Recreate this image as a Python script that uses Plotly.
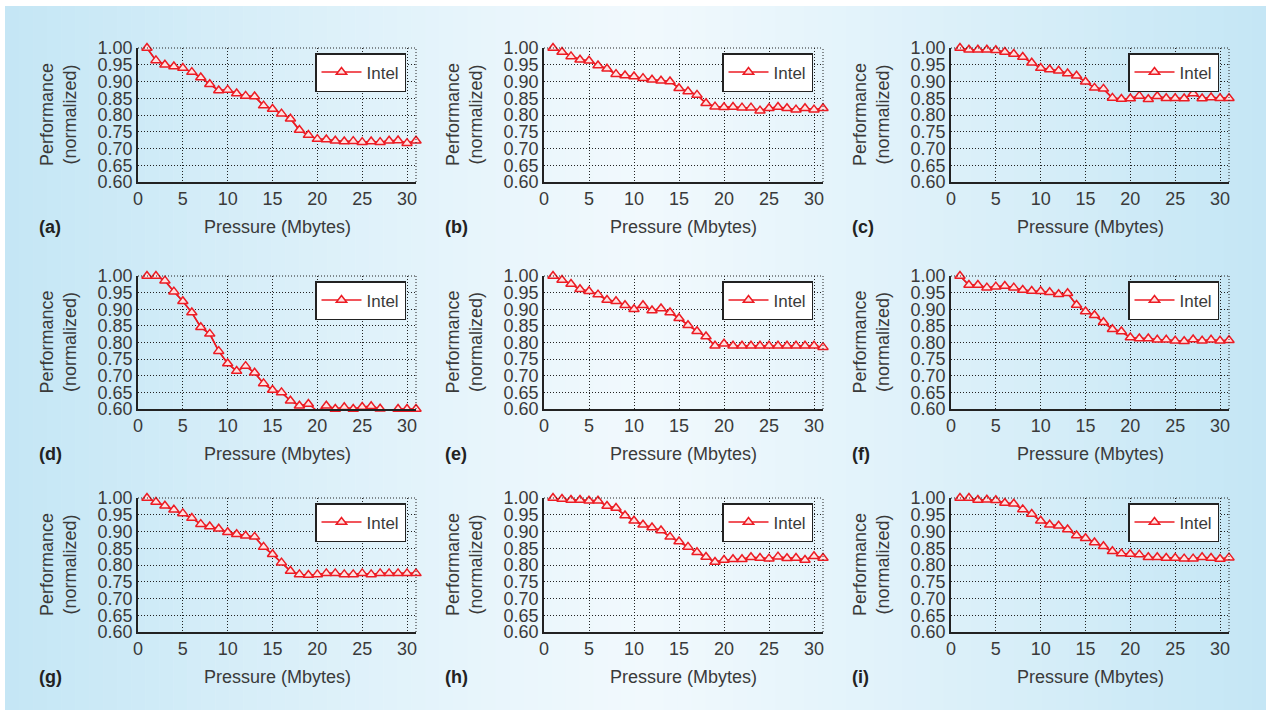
import plotly.graph_objects as go

# ---------------- data ----------------
pressure_mb = list(range(1, 32))

perf_a = [1.00, 0.963, 0.95, 0.945, 0.94, 0.928, 0.912, 0.892, 0.873, 0.875, 0.864, 0.857, 0.855, 0.828, 0.818,
          0.804, 0.789, 0.755, 0.74, 0.728, 0.727, 0.723, 0.721, 0.722, 0.719, 0.721, 0.719, 0.723, 0.724, 0.716, 0.723]
perf_b = [1.00, 0.988, 0.975, 0.965, 0.962, 0.948, 0.938, 0.922, 0.918, 0.915, 0.91, 0.905, 0.902, 0.90, 0.88,
          0.87, 0.86, 0.835, 0.825, 0.823, 0.824, 0.822, 0.822, 0.813, 0.82, 0.824, 0.82, 0.816, 0.82, 0.816, 0.82]
perf_c = [1.00, 0.995, 0.995, 0.995, 0.993, 0.988, 0.982, 0.973, 0.956, 0.94, 0.936, 0.932, 0.924, 0.917, 0.899,
          0.881, 0.878, 0.851, 0.848, 0.849, 0.857, 0.847, 0.856, 0.85, 0.85, 0.849, 0.864, 0.849, 0.852, 0.85, 0.85]
perf_d = [1.00, 1.00, 0.986, 0.953, 0.924, 0.89, 0.846, 0.826, 0.774, 0.737, 0.714, 0.729, 0.709, 0.677, 0.657,
          0.65, 0.625, 0.61, 0.615, 0.594, 0.61, 0.60, 0.605, 0.60, 0.606, 0.608, 0.601, 0.594, 0.60, 0.60, 0.60]
perf_e = [1.00, 0.988, 0.976, 0.96, 0.954, 0.944, 0.928, 0.924, 0.912, 0.90, 0.912, 0.896, 0.902, 0.89, 0.873,
          0.852, 0.834, 0.818, 0.79, 0.796, 0.79, 0.79, 0.79, 0.79, 0.79, 0.79, 0.79, 0.79, 0.79, 0.79, 0.786]
perf_f = [1.00, 0.973, 0.973, 0.965, 0.968, 0.97, 0.965, 0.958, 0.955, 0.954, 0.951, 0.945, 0.948, 0.913, 0.893,
          0.882, 0.861, 0.84, 0.833, 0.815, 0.812, 0.812, 0.808, 0.808, 0.805, 0.804, 0.809, 0.805, 0.808, 0.805, 0.807]
perf_g = [1.00, 0.988, 0.977, 0.965, 0.954, 0.94, 0.922, 0.915, 0.908, 0.898, 0.892, 0.887, 0.884, 0.854, 0.832,
          0.807, 0.782, 0.772, 0.77, 0.772, 0.775, 0.775, 0.772, 0.772, 0.775, 0.772, 0.775, 0.775, 0.775, 0.775, 0.775]
perf_h = [1.00, 0.997, 0.994, 0.994, 0.992, 0.992, 0.976, 0.97, 0.948, 0.932, 0.92, 0.912, 0.903, 0.884, 0.87,
          0.854, 0.838, 0.824, 0.809, 0.815, 0.817, 0.817, 0.823, 0.821, 0.819, 0.825, 0.82, 0.821, 0.815, 0.826, 0.821]
perf_i = [1.00, 1.00, 0.994, 0.995, 0.993, 0.985, 0.983, 0.966, 0.952, 0.932, 0.92, 0.917, 0.906, 0.888, 0.88,
          0.867, 0.856, 0.841, 0.834, 0.833, 0.831, 0.823, 0.823, 0.821, 0.821, 0.819, 0.819, 0.823, 0.821, 0.818, 0.822]

panel_labels = ["(a)", "(b)", "(c)", "(d)", "(e)", "(f)", "(g)", "(h)", "(i)"]
panel_series = [perf_a, perf_b, perf_c, perf_d, perf_e, perf_f, perf_g, perf_h, perf_i]
series_name = "Intel"
x_title = "Pressure (Mbytes)"
y_title = "Performance<br>(normalized)"
x_ticks = [0, 5, 10, 15, 20, 25, 30]
y_ticks = [0.60, 0.65, 0.70, 0.75, 0.80, 0.85, 0.90, 0.95, 1.00]

# ---------------- layout geometry (pixels) ----------------
W, H = 1266, 715
col_x0 = [138, 544, 951]
col_x1 = [416, 823, 1229]
row_y0 = [48, 276, 498]     # top of plot areas
row_y1 = [182, 409, 632]    # bottom of plot areas

def px(x):
    return x / W

def py(y):
    return 1 - y / H

RED = "rgb(236,28,36)"
FONT = "Liberation Sans, Arial, sans-serif"
TXT = "#3a3a3a"

fig = go.Figure()

shapes = []
# background gradient panel
x_left, x_right, y_top, y_bot = 5, 1266, 6, 710
n_strips = 90
edge = (196, 230, 245)
mid = (241, 249, 253)
center = 640
for k in range(n_strips):
    a = x_left + (x_right - x_left) * k / n_strips
    b = min(x_right, x_left + (x_right - x_left) * (k + 1) / n_strips + 0.6)
    xc = (a + b) / 2
    if xc < center:
        t = min(1.0, (center - xc) / (center - x_left))
    else:
        t = min(1.0, (xc - center) / (x_right - center))
    t = t ** 1.1
    col = tuple(int(round(mid[j] + (edge[j] - mid[j]) * t)) for j in range(3))
    shapes.append(dict(type="rect", xref="paper", yref="paper", x0=px(a), x1=px(b),
                       y0=py(y_bot), y1=py(y_top), fillcolor="rgb(%d,%d,%d)" % col,
                       line=dict(width=0), layer="below"))

annotations = []
layout_axes = {}
for idx, (label, ys) in enumerate(zip(panel_labels, panel_series)):
    r, c = divmod(idx, 3)
    n = idx + 1
    xs = "" if n == 1 else str(n)
    xa, ya = "x" + xs, "y" + xs
    leg = "legend" if n == 1 else "legend" + str(n)

    ys_vis = [v if v >= 0.6 else None for v in ys]
    fig.add_trace(go.Scatter(x=pressure_mb, y=ys, mode="lines", line=dict(color=RED, width=1.5),
                             xaxis=xa, yaxis=ya, cliponaxis=True, showlegend=False, hoverinfo="skip"))
    fig.add_trace(go.Scatter(x=pressure_mb, y=ys_vis, mode="lines+markers", name=series_name,
                             line=dict(color=RED, width=1.5),
                             marker=dict(symbol="triangle-up", size=9, color="#ffe2e2",
                                         line=dict(color=RED, width=1.5)),
                             xaxis=xa, yaxis=ya, cliponaxis=False, legend=leg))

    xdom = [px(col_x0[c]), px(col_x1[c])]
    ydom = [py(row_y1[r]), py(row_y0[r])]
    common = dict(showgrid=True, gridcolor="#222", griddash="1px,2px", gridwidth=1,
                  showline=True, linecolor="#222", linewidth=1.5, ticks="", zeroline=False,
                  automargin=False, tickfont=dict(family=FONT, size=18, color=TXT))
    layout_axes["xaxis" + xs] = dict(domain=xdom, anchor=ya, range=[0, 31], tickvals=x_ticks, **common)
    layout_axes["yaxis" + xs] = dict(domain=ydom, anchor=xa, range=[0.6, 1.0], tickvals=y_ticks,
                                     tickformat=".2f", **common)

    layout_axes[leg] = dict(x=px(col_x1[c] - 10), y=py(row_y0[r] + 5), xanchor="right", yanchor="top",
                            bgcolor="white", bordercolor="#222", borderwidth=1.5,
                            font=dict(family=FONT, size=17, color=TXT), itemwidth=40,
                            tracegroupgap=0)

    shapes.append(dict(type="line", xref=xa + " domain", yref=ya + " domain", x0=1, x1=1, y0=0, y1=1,
                       line=dict(color="#222", width=1, dash="1px,2px")))
    shapes.append(dict(type="line", xref=xa + " domain", yref=ya + " domain", x0=0, x1=1, y0=1, y1=1,
                       line=dict(color="#222", width=1, dash="1px,2px")))

    cx = (col_x0[c] + col_x1[c]) / 2
    ylab = row_y1[r] + 45
    annotations.append(dict(text=x_title, xref="paper", yref="paper", x=px(cx), y=py(ylab),
                            xanchor="center", yanchor="middle", showarrow=False,
                            font=dict(family=FONT, size=18, color=TXT)))
    annotations.append(dict(text="<b>" + label + "</b>", xref="paper", yref="paper",
                            x=px(col_x0[c] - 101), y=py(ylab), xanchor="left", yanchor="middle",
                            showarrow=False, font=dict(family=FONT, size=18, color="#222")))
    annotations.append(dict(text=y_title, xref="paper", yref="paper", x=px(col_x0[c] - 80),
                            y=py((row_y0[r] + row_y1[r]) / 2), xanchor="center", yanchor="middle",
                            textangle=-90, showarrow=False,
                            font=dict(family=FONT, size=18, color=TXT)))

fig.update_layout(template="none", width=W, height=H, margin=dict(l=0, r=0, t=0, b=0, pad=0, autoexpand=False),
                  paper_bgcolor="white", plot_bgcolor="white", hovermode="closest",
                  shapes=shapes, annotations=annotations, **layout_axes)

fig.write_html("out.html", config={"displayModeBar": False},
               post_script="document.body.style.margin='0';document.body.style.padding='0';"
                           "document.body.style.overflow='hidden';"
                           "document.documentElement.style.overflow='hidden';")
